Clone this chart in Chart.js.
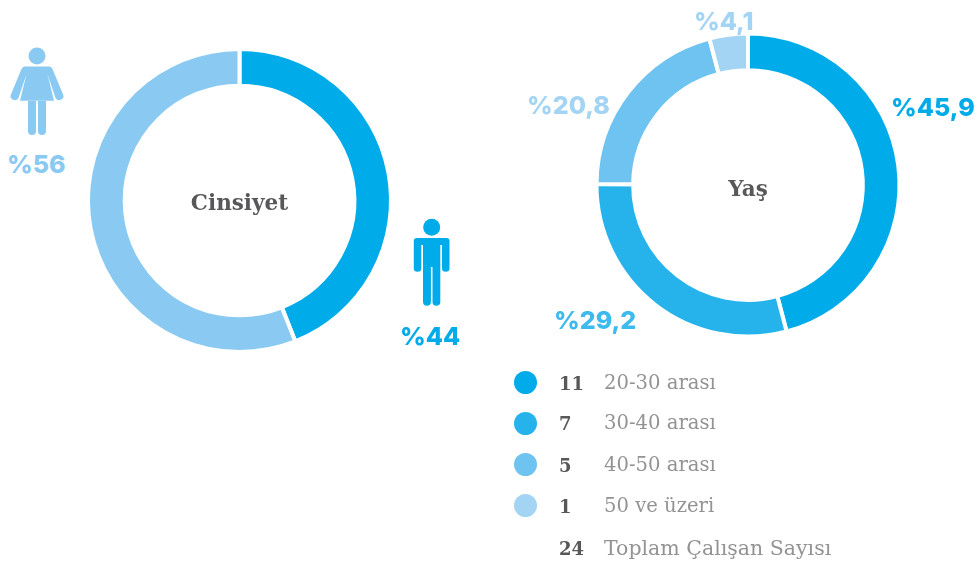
<!DOCTYPE html>
<html lang="tr"><head><meta charset="utf-8">
<script src="https://cdn.jsdelivr.net/npm/chart.js@4"></script>
<style>
html,body{margin:0;padding:0;background:#fff;width:975px;height:564px;overflow:hidden}
#stage{position:relative;width:975px;height:564px}
canvas{position:absolute}
.t{position:absolute;white-space:nowrap;line-height:1}
.pct{font:800 25px "Inter"}
.title{font:700 21.500px "DejaVu Serif";color:#58585a;transform:translate(-50%,-50%)}
.num{font:700 18px "DejaVu Serif";color:#58585a}
.lab{font:400 19.600px "DejaVu Serif";color:#929395}
.lab.total{font-size:20.500px}
.dot{position:absolute;width:23px;height:23px;border-radius:50%}
svg{position:absolute;left:0;top:0}
</style></head><body><div id="stage">
<svg width="975" height="564" viewBox="0 0 975 564">
<g fill="#8ACAF2">
<circle cx="37" cy="56" r="8.500"/>
<path d="M24.500 66.500H49.500Q51.500 66.500 52.500 69L63.300 95Q64.300 98 61 99.800Q57.500 101.300 55.500 98L47.500 74L54 100.700H20L26.500 74L18.500 98Q16.500 101.300 13 99.800Q9.700 98 10.700 95L21.500 69Q22.500 66.500 24.500 66.500Z"/>
<path d="M28 101H36V131.300Q36 135 32 135Q28 135 28 131.300ZM38 101H46V131.300Q46 135 42 135Q38 135 38 131.300Z"/>
</g>
<g fill="#00ABE9">
<circle cx="431.700" cy="227.300" r="8.500"/>
<path d="M417 238H446.500Q449.500 238 449.500 241V268.500Q449.500 271.700 445.800 271.700Q442 271.700 442 268.500V245H440.300V302Q440.300 305.700 436.300 305.700Q432.500 305.700 432.500 302V267H430.900V302Q430.900 305.700 427 305.700Q423 305.700 423 302V245H421.300V268.500Q421.300 271.700 417.500 271.700Q413.800 271.700 413.800 268.500V241Q413.800 238 417 238Z"/>
</g>
</svg>
<canvas id="c1" width="339" height="339" style="left:70px;top:31px;width:339px;height:339px"></canvas>
<canvas id="c2" width="340" height="340" style="left:578px;top:15px;width:340px;height:340px"></canvas>
</div>
<script>
const genderTitle = "Cinsiyet";
const genderLabels = ["Erkek", "Kadın"];
const genderValues = [44, 56];
const genderColors = ["#00ABE9", "#8ACAF2"];
const genderTexts = ["%44", "%56"];

const ageTitle = "Yaş";
const ageLabels = ["20-30 arası", "30-40 arası", "40-50 arası", "50 ve üzeri"];
const ageValues = [45.9, 29.2, 20.8, 4.1];
const ageCounts = ["11", "7", "5", "1"];
const ageColors = ["#00ABE9", "#26B3EB", "#6FC3F0", "#A3D4F4"];
const ageTexts = ["%45,9", "%29,2", "%20,8", "%4,1"];
const totalCount = "24";
const totalLabel = "Toplam Çalışan Sayısı";

const stage = document.getElementById("stage");
function text(cls, s, x, y, color){
  const d = document.createElement("div");
  d.className = "t " + cls; d.textContent = s;
  d.style.left = x + "px"; d.style.top = y + "px";
  if(color) d.style.color = color;
  stage.appendChild(d);
}
function donut(id, labels, values, colors){
  new Chart(document.getElementById(id), {
    type: "doughnut",
    data: {labels, datasets:[{data: values, backgroundColor: colors, borderColor:"#fff", borderWidth:4, borderAlign:"center", radius:151.500}]},
    options:{responsive:false, animation:false, cutout:"75.800%", layout:{padding:0},
      plugins:{legend:{display:false}, tooltip:{enabled:false}}}
  });
}
donut("c1", genderLabels, genderValues, genderColors);
donut("c2", ageLabels, ageValues, ageColors);

text("title", genderTitle, 239.500, 202);
text("title", ageTitle, 748, 188);
text("pct", genderTexts[1], 7, 149, genderColors[1]);
text("pct", genderTexts[0], 400, 321, genderColors[0]);
const agePos = [[891,92],[554,305],[527,90],[694,6]];
const ageTextColors = ["#00ABE9","#3DBBEE","#A3D4F4","#A3D4F4"];
ageTexts.forEach((s,i)=>text("pct", s, agePos[i][0], agePos[i][1], ageTextColors[i]));

const rowY = [382.500, 423, 464.500, 505.500];
ageLabels.forEach((s,i)=>{
  const d = document.createElement("div");
  d.className = "dot"; d.style.left = "513.500px"; d.style.top = (rowY[i]-11.500) + "px";
  d.style.background = ageColors[i]; stage.appendChild(d);
  text("num", ageCounts[i], 559, rowY[i]-10);
  text("lab", s, 604, rowY[i]-12);
});
text("num", totalCount, 559, 538);
text("lab total", totalLabel, 604, 536);
</script></body></html>
